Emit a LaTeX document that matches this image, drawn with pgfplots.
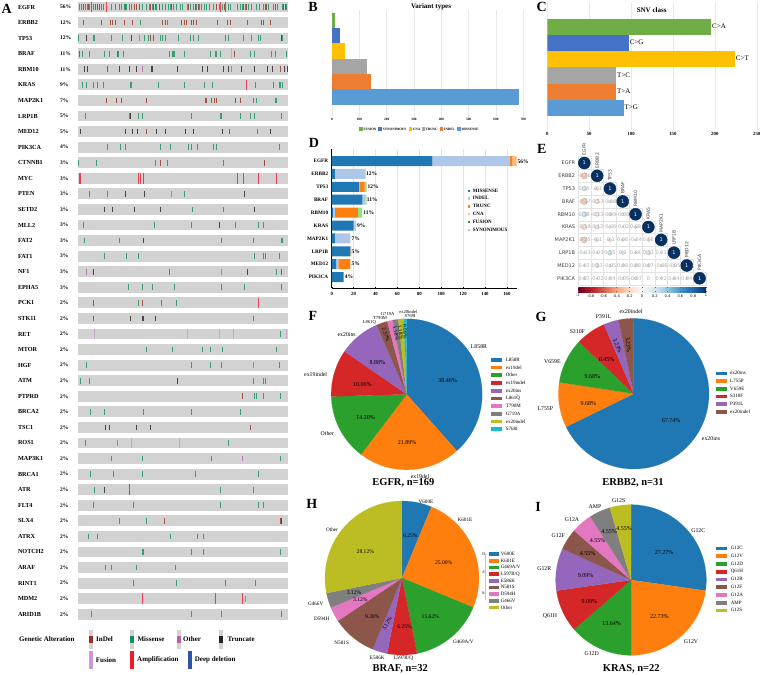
\documentclass[border=0pt]{standalone}
\usepackage{fontspec}
\setmainfont{Liberation Serif}
\newfontfamily\sansE{DejaVu Sans}
\usepackage{pgfplots}
\pgfplotsset{compat=1.18}
\usepackage{pgfplotstable}
\newcommand\fs[1]{\fontsize{#1}{#1}\selectfont}
\definecolor{tA}{HTML}{1F77B4}\definecolor{tB}{HTML}{FF7F0E}\definecolor{tC}{HTML}{2CA02C}
\definecolor{tD}{HTML}{D62728}\definecolor{tE}{HTML}{9467BD}\definecolor{tF}{HTML}{8C564B}
\definecolor{tG}{HTML}{E377C2}\definecolor{tH}{HTML}{7F7F7F}\definecolor{tI}{HTML}{BCBD22}
\definecolor{tJ}{HTML}{17BECF}
\definecolor{lA}{HTML}{AEC7E8}\definecolor{lB}{HTML}{FFBB78}\definecolor{lD}{HTML}{98DF8A}
\definecolor{xG}{HTML}{70AD47}\definecolor{xB}{HTML}{4472C4}\definecolor{xY}{HTML}{FFC000}
\definecolor{xS}{HTML}{A5A5A5}\definecolor{xO}{HTML}{ED7D31}\definecolor{xL}{HTML}{5B9BD5}
\definecolor{aRow}{HTML}{D2D2D2}
\definecolor{aMis}{HTML}{14915A}\definecolor{aInd}{HTML}{93321F}\definecolor{aTru}{HTML}{2B1F1B}
\definecolor{aOth}{HTML}{BE5DB0}\definecolor{aFus}{HTML}{C79AD3}\definecolor{aAmp}{HTML}{ED1C2E}
\definecolor{aDel}{HTML}{2F55A8}
\pgfplotsset{
  base/.style={scale only axis,anchor=south west,/pgf/number format/assume math mode=true,scaled ticks=false},
  tk/.style={only marks,mark=|,mark size=#1,mark options={line width=.7pt,solid,opacity=.8}},
  tk/.default=2.8pt,
}
% Z: position in px from an origin (ox,oy) plus zoom-scale offset
\newcommand\Z[6]{\node[inner sep=0pt,#5] at ({(#1+#3/3)*1pt},{-(#2+#4/3)*1pt}) {#6};}
% pie: cx cy diameter list(value/colour)
\newcommand\piechart[4]{%
\begin{axis}[hide axis,scale only axis,anchor=south west,at={({(#1-#3/2)*1pt},{-(#2+#3/2)*1pt})},
  width=#3pt,height=#3pt,xmin=-1,xmax=1,ymin=-1,ymax=1,clip=false]
  \gdef\acc{0}%
  \foreach \v/\c in {#4}{%
    \pgfmathsetmacro\sweep{\v*3.6}%
    \pgfmathtruncatemacro\npts{ceil(\sweep/2.5)+1}%
    \gdef\plist{(0,0)}%
    \foreach \k in {0,...,\npts}{%
      \pgfmathsetmacro\th{90-\acc*3.6-\k/\npts*\sweep}%
      \pgfmathsetmacro\xx{cos(\th)}%
      \pgfmathsetmacro\yy{sin(\th)}%
      \xdef\plist{\plist(\xx,\yy)}%
    }%
    \edef\tmp{\noexpand\addplot[fill=\c,draw=\c,line width=.1pt,forget plot] coordinates {\plist(0,0)};}%
    \tmp
    \pgfmathsetmacro\newacc{\acc+\v}%
    \xdef\acc{\newacc}%
  }%
\end{axis}}
% pie legend: ox oy xl xr tx list(y/colour/name)
\newcommand\pleg[6]{%
  \foreach \y/\c/\t in {#6}{%
    \fill[\c] ({(#1+#3/3)*1pt},{-(#2+(\y-5.5)/3)*1pt}) rectangle ({(#1+#4/3)*1pt},{-(#2+(\y+5.5)/3)*1pt});
    \node[anchor=west,inner sep=0pt,font=\fs{5}] at ({(#1+#5/3)*1pt},{-(#2+\y/3)*1pt}) {\t};
  }}
\pgfplotstableread{
x y v
1 2 -0.26
1 3 0.15
2 3 -0.1
1 4 -0.27
2 4 -0.13
3 4 -0.08
1 5 0.18
2 5 -0.13
3 5 -0.09
4 5 -0.08
1 6 -0.18
2 6 -0.12
3 6 -0.06
4 6 -0.02
5 6 0.08
1 7 -0.25
2 7 -0.1
3 7 -0.1
4 7 0.06
5 7 -0.04
6 7 0.08
1 8 -0.03
2 8 -0.03
3 8 0.15
4 8 0.1
5 8 0.04
6 8 0.13
7 8 0.01
1 9 0.03
2 9 0.13
3 9 -0.05
4 9 0.08
5 9 0.08
6 9 0.07
7 9 -0.06
8 9 -0.05
1 10 0.07
2 10 -0.02
3 10 0.04
4 10 -0.05
5 10 -0.07
6 10 0
7 10 0.02
8 10 0.04
9 10 0.04
}\Elow
\pgfplotstableread{
x y v
1 1 1
2 2 1
3 3 1
4 4 1
5 5 1
6 6 1
7 7 1
8 8 1
9 9 1
10 10 1
}\Ediag
\begin{document}
\begin{tikzpicture}
\useasboundingbox (0,0) rectangle (761pt,-675pt);
\fill[white] (0,0) rectangle (761pt,-675pt);
%% ---- A
\begin{axis}[hide axis,scale only axis,anchor=south west,at={(0pt,-675pt)},width=300pt,height=675pt,
  xmin=0,xmax=900,ymin=0.55,ymax=43.9,y dir=reverse,clip=false]
\pgfplotsinvokeforeach{1,...,40}{\addplot[aRow,line width=10.8pt,forget plot] coordinates {(233,#1)(865,#1)};}
\addplot[tk,color=aMis,forget plot] coordinates {
(237,1)(245,1)(256,1)(262,1)(268,1)(281,1)(303,1)(310,1)(335,1)(345,1)(358,1)(365,1)(372,1)(380,1)(388,1)(395,1)(428,1)(438,1)(447,1)(456,1)(470,1)(487,1)(495,1)(505,1)(512,1)(520,1)(530,1)(541,1)(548,1)(562,1)(571,1)(580,1)(590,1)(598,1)(604,1)(612,1)(618,1)(628,1)(640,1)(658,1)(668,1)(684,1)(690,1)(712,1)(722,1)(728,1)(735,1)(745,1)(755,1)(768,1)(778,1)(790,1)(805,1)(820,1)(833,1)(846,1)(860,1)
(420,2)(503,2)
(235,3)(280,3)(283,3)(335,3)(367,3)(433,3)(445,3)(480,3)(488,3)(496,3)(535,3)(572,3)(580,3)(595,3)(676,3)(685,3)(730,3)(755,3)(775,3)(780,3)(848,3)
(247,4)(268,4)(313,4)(328,4)(356,4)(370,4)(507,4)(518,4)(521,4)(524,4)(553,4)(630,4)(645,4)(650,4)(662,4)(750,4)(762,4)(815,4)(826,4)(860,4)
(248,6)(258,6)(280,6)(291,6)(310,6)(390,6)(393,6)(476,6)(553,6)(612,6)(637,6)(765,6)(819,6)(838,6)(842,6)(846,6)
(760,7)(770,7)(826,7)(830,7)
(257,8)(388,8)(416,8)(428,8)(573,8)(662,8)(665,8)(721,8)(750,8)(762,8)(843,8)
(772,9)
(323,10)(362,10)(375,10)(481,10)(510,10)(566,10)(574,10)(593,10)(640,10)(649,10)(838,10)
(235,11)(290,11)(466,11)(502,11)(670,11)
(267,13)(321,13)(553,13)
(578,14)(670,14)
(250,15)(463,15)(573,15)(705,15)(775,15)(790,15)
(252,16)(358,16)(664,16)(761,16)(843,16)(846,16)
(313,17)(379,17)(415,17)(764,17)(790,17)(795,17)(838,17)
(507,18)(828,18)
(385,19)(428,19)(458,19)(522,19)(664,19)(733,19)(843,19)
(415,20)(484,20)(530,20)
(761,21)
(840,22)
(438,23)(517,23)(606,23)(631,23)(667,23)(830,23)
(260,24)(573,24)(631,24)(664,24)(838,24)
(240,25)(268,25)(761,25)(790,25)(795,25)
(762,26)(768,26)(789,26)(840,26)
(270,27)(313,27)(430,27)(573,27)(721,27)
(257,29)(685,29)
(334,30)(428,30)(634,30)(840,30)
(272,31)(341,31)(428,31)(586,31)(776,31)
(283,32)(662,32)(761,32)
(280,33)(400,33)(662,33)(775,33)(790,33)
(359,34)(440,34)
(265,35)(292,35)(511,35)(593,35)(611,35)
(428,36)(431,36)(573,36)(611,36)(840,36)
(316,37)(334,37)(410,37)(527,37)
(400,38)(530,38)(675,38)(766,38)
(275,40)(573,40)(664,40)(843,40)
};
\addplot[tk,color=aInd,forget plot] coordinates {
(250,1)(265,1)(287,1)(292,1)(298,1)(377,1)(402,1)(410,1)(417,1)(452,1)(460,1)(466,1)(478,1)(515,1)(565,1)(585,1)(595,1)(650,1)(672,1)(730,1)(738,1)(795,1)(800,1)(825,1)(850,1)(855,1)
(250,2)(305,2)(332,2)(338,2)(346,2)(372,2)(397,2)(488,2)(497,2)(545,2)(552,2)(558,2)(573,2)(580,2)(590,2)(653,2)(682,2)(690,2)(743,2)(785,2)(790,2)(812,2)
(452,3)(461,3)
(237,4)(352,4)(703,4)
(321,5)(840,5)
(319,7)(349,7)(365,7)(438,7)(616,7)(620,7)(635,7)(642,7)(650,7)(707,7)(722,7)
(440,9)(688,9)
(482,11)(792,11)
(843,18)
(280,20)(428,20)
(280,21)
(726,26)
(751,28)
(492,34)(841,34)
};
\addplot[tk,color=aTru,forget plot] coordinates {
(260,3)(393,3)(843,3)
(252,5)(262,5)(358,5)(387,5)(408,5)(454,5)(458,5)(531,5)(607,5)(623,5)(670,5)(686,5)(725,5)(763,5)(803,5)(817,5)(853,5)(862,5)
(391,8)
(241,9)(375,9)(397,9)(411,9)(468,9)(496,9)(555,9)(580,9)(668,9)(810,9)
(376,13)(433,13)(733,13)
(313,14)(337,14)(402,14)(481,14)(763,14)
(657,15)
(430,16)
(280,18)(741,18)
(390,21)(428,21)(431,21)(466,21)
(532,25)
(316,28)(328,28)(410,28)(451,28)
(313,32)
(843,34)
};
\addplot[tk,color=aOth,forget plot] coordinates {
(417,3)(427,5)(693,5)(514,13)(260,18)(664,18)(761,24)(352,29)(728,30)(736,39)
};
\addplot[tk=5.3pt,color=aFus,forget plot] coordinates {
(695,4)(283,22)(561,22)(657,22)(700,22)(860,22)(394,29)(537,29)
};
\addplot[tk=5.3pt,color=aAmp,forget plot] coordinates {
(275,1)(320,1)(662,1)(677,1)(739,6)(239,12)(241,12)(416,12)(421,12)(430,12)(711,12)(729,12)(775,12)(828,12)(775,20)(427,39)(647,39)(728,39)
};
\addplot[tk=5.3pt,color=aDel,forget plot] coordinates {(387,32)};
\end{axis}
\foreach \i/\g/\p in {1/EGFR/56,2/ERBB2/12,3/TP53/12,4/BRAF/11,5/RBM10/11,6/KRAS/9,7/MAP2K1/7,8/LRP1B/5,9/MED12/5,10/PIK3CA/4,11/CTNNB1/3,12/MYC/3,13/PTEN/3,14/SETD2/3,15/MLL2/3,16/FAT2/3,17/FAT1/3,18/NF1/3,19/EPHA5/3,20/PCK1/2,21/STK11/2,22/RET/2,23/MTOR/2,24/HGF/2,25/ATM/2,26/PTPRD/2,27/BRCA2/2,28/TSC1/2,29/ROS1/2,30/MAP3K1/2,31/BRCA1/2,32/ATR/2,33/FLT4/2,34/SLX4/2,35/ATRX/2,36/NOTCH2/2,37/ARAF/2,38/RINT1/2,39/MDM2/2,40/ARID1B/2}{
  \node[anchor=west,inner sep=0pt,font=\fs{6.2}\bfseries] at (17.8pt,{-(7+15.57*(\i-1))*1pt}) {\g};
  \node[anchor=west,inner sep=0pt,font=\fs{5.5}\bfseries] at (60pt,{-(7+15.57*(\i-1))*1pt}) {\p\%};
}
% A legend
\Z{0}{450}{57}{568}{anchor=west,font=\fs{7}\bfseries}{Genetic Alteration}
\foreach \a/\c/\tx/\t in {267/aInd/288/InDel,389/aMis/412/Missense,530/aOth/549/Other,658/aTru/682/Truncate}{
  \fill[aRow] ({\a/3*1pt},{-(450+540/3)*1pt}) rectangle ({(\a+12)/3*1pt},{-(450+597/3)*1pt});
  \fill[\c] ({\a/3*1pt},{-(450+558/3)*1pt}) rectangle ({(\a+12)/3*1pt},{-(450+578/3)*1pt});
  \Z{0}{450}{\tx}{567}{anchor=west,font=\fs{7}\bfseries}{\t}
}
\foreach \a/\c/\tx/\t in {267/aFus/287/Fusion,390/aAmp/411/Amplification,564/aDel/584/Deep deletion}{
  \fill[\c] ({\a/3*1pt},{-(450+602/3)*1pt}) rectangle ({(\a+12)/3*1pt},{-(450+657/3)*1pt});
  \Z{0}{450}{\tx}{629}{anchor=west,font=\fs{7}\bfseries}{\t}
}
%% ---- B
\begin{axis}[base,at={(332pt,-117pt)},width=191.3pt,height=107pt,xmin=0,xmax=700,ymin=0.328,ymax=7.308,y dir=reverse,
  axis line style={draw=none},tick style={draw=none},ytick=\empty,xtick={0,100,...,700},
  xmajorgrids,grid style={gray!18,line width=.4pt},tick label style={font=\fs{3.4}\bfseries},xticklabel style={yshift=2pt}]
\addplot[xbar,bar shift=0pt,bar width=15.33pt,fill=xG,draw=none] coordinates {(12,1)};
\addplot[xbar,bar shift=0pt,bar width=15.33pt,fill=xB,draw=none] coordinates {(30,2)};
\addplot[xbar,bar shift=0pt,bar width=15.33pt,fill=xY,draw=none] coordinates {(48,3)};
\addplot[xbar,bar shift=0pt,bar width=15.33pt,fill=xS,draw=none] coordinates {(128,4)};
\addplot[xbar,bar shift=0pt,bar width=15.33pt,fill=xO,draw=none] coordinates {(141,5)};
\addplot[xbar,bar shift=0pt,bar width=15.33pt,fill=xL,draw=none] coordinates {(685,6)};
\end{axis}
\Z{300}{0}{393}{21}{font=\fs{7}\bfseries}{Variant types}
\foreach \a/\c/\tx/\t in {178/xG/190/FUSION,235/xB/248/SYNONIMOUS,327/xY/338/CNA,365/xS/376/TRUNC,420/xO/432/INDEL,472/xL/484/MISSENSE}{
  \fill[\c] ({(300+\a/3)*1pt},-127.3pt) rectangle ({(300+(\a+10)/3)*1pt},-130.7pt);
  \Z{300}{0}{\tx}{387}{anchor=west,font=\fs{3.4}\bfseries}{\t}
}
%% ---- C
\begin{axis}[base,at={(547.3pt,-130pt)},width=209.4pt,height=127pt,xmin=0,xmax=250,ymin=-0.49,ymax=7.38,y dir=reverse,
  axis line style={draw=none},tick style={draw=none},ytick=\empty,xtick={0,50,...,250},
  xmajorgrids,grid style={gray!18,line width=.4pt},tick label style={font=\fs{4.8}\bfseries},xticklabel style={yshift=1pt}]
\addplot[xbar,bar shift=0pt,bar width=16.13pt,fill=xG,draw=none] coordinates {(196,1)};
\addplot[xbar,bar shift=0pt,bar width=16.13pt,fill=xB,draw=none] coordinates {(97,2)};
\addplot[xbar,bar shift=0pt,bar width=16.13pt,fill=xY,draw=none] coordinates {(224,3)};
\addplot[xbar,bar shift=0pt,bar width=16.13pt,fill=xS,draw=none] coordinates {(82,4)};
\addplot[xbar,bar shift=0pt,bar width=16.13pt,fill=xO,draw=none] coordinates {(82,5)};
\addplot[xbar,bar shift=0pt,bar width=16.13pt,fill=xL,draw=none] coordinates {(91,6)};
\end{axis}
\Z{530}{0}{365}{31}{font=\fs{7}\bfseries}{SNV class}
\foreach \x/\y/\t in {567/78/{C>A},320/127/{C>G},637/176/{C>T},281/225/{T>C},281/273/{T>A},304/321/{T>G}}{
  \Z{530}{0}{\x}{\y}{font=\fs{7}}{\t}
}
%% ---- D
\begin{axis}[base,at={(331.7pt,-288.3pt)},width=185pt,height=139pt,xmin=0,xmax=169,ymin=0.093,ymax=10.868,y dir=reverse,
  xbar stacked,bar width=10pt,axis x line*=bottom,axis y line*=left,axis line style={-,black,line width=.5pt},
  xtick={0,20,...,160},ytick={1,...,10},yticklabels={EGFR,ERBB2,TP53,BRAF,RBM10,KRAS,MAP2K1,LRP1B,MED12,PIK3CA},
  xmajorgrids,grid style={gray!22,line width=.5pt},
  xticklabel style={font=\fs{4.8}\bfseries},yticklabel style={font=\fs{5.2}\bfseries},major tick length=1.5pt,
  tick style={black,line width=.4pt}]
\addplot[fill=tA,draw=none] coordinates {(92,1)(3,2)(25,3)(28,4)(1,5)(20,6)(3,7)(17,8)(4,9)(11,10)};
\addplot[fill=lA,draw=none] coordinates {(71,1)(28,2)(1,3)(3,4)(2,5)(1,6)(14,7)(0,8)(2,9)(0,10)};
\addplot[fill=tB,draw=none] coordinates {(2,1)(0,2)(4,3)(0,4)(21,5)(0,6)(0,7)(0,8)(11,9)(0,10)};
\addplot[fill=lB,draw=none] coordinates {(4,1)(0,2)(0,3)(0,4)(0,5)(1,6)(0,7)(1,8)(0,9)(0,10)};
\addplot[fill=tC,draw=none] coordinates {(0,1)(0,2)(0,3)(0,4)(0,5)(0,6)(0,7)(0,8)(0,9)(0,10)};
\addplot[fill=lD,draw=none] coordinates {(0,1)(0,2)(2,3)(1,4)(4,5)(0,6)(0,7)(0,8)(0,9)(0,10)};
\end{axis}
\foreach \x/\y/\t in {669/64/56,215/101/12,219/140/12,217/179/11,206/218/11,184/256/9,167/296/7,167/334/5,167/372/5,147/411/4}{
  \Z{300}{140}{\x}{\y}{font=\fs{5.5}\bfseries}{\t\%}
}
\foreach \y/\c/\t in {152/tA/MISSENSE,175/lA/INDEL,199/tB/TRUNC,222/lB/CNA,245/tC/FUSION,269/lD/SYNONIMOUS}{
  \fill[\c] ({(300+503.5/3)*1pt},{-(140+(\y-3.5)/3)*1pt}) rectangle ({(300+510.5/3)*1pt},{-(140+(\y+3.5)/3)*1pt});
  \Z{300}{140}{518}{\y}{anchor=west,font=\fs{5}\bfseries}{\t}
}
%% ---- E
\begin{axis}[hide axis,scale only axis,anchor=south west,at={(577.9pt,-284.7pt)},width=128.1pt,height=128.1pt,
  xmin=0.5,xmax=10.5,ymin=0.5,ymax=10.5,y dir=reverse,clip=false,
  colormap={rdbu}{rgb255=(103,0,31) rgb255=(178,24,43) rgb255=(214,96,77) rgb255=(244,165,130) rgb255=(253,219,199) rgb255=(247,247,247) rgb255=(209,229,240) rgb255=(146,197,222) rgb255=(67,147,195) rgb255=(33,102,172) rgb255=(5,48,97)},
  point meta min=-1,point meta max=1,
  colorbar horizontal,
  colorbar style={at={(0,-0.018)},anchor=north west,width=128.1pt,height=5.3pt,xtick={-1,-0.8,...,1},
    /pgf/number format/assume math mode=true,/pgf/number format/fixed,
    xticklabel style={font=\fs{3.6}\sansE,yshift=1.5pt},major tick length=1pt,tick style={black!60,line width=.2pt},axis line style={draw=none}}]
\addplot[only marks,mark=square,mark size=6.4pt,mark options={draw=gray!22,line width=.3pt,fill=none}] table[x=x,y=y]{\Elow};
\addplot[only marks,mark=square,mark size=6.4pt,mark options={draw=gray!22,line width=.3pt,fill=none}] table[x=x,y=y]{\Ediag};
\addplot[scatter,only marks,mark=*,scatter src=explicit,visualization depends on={6*sqrt(abs(\thisrow{v}))\as\rr},
  scatter/@pre marker code/.append style={/tikz/mark size=\rr pt}] table[x=x,y=y,meta=v]{\Elow};
\addplot[scatter,only marks,mark=*,scatter src=explicit,visualization depends on={6*sqrt(abs(\thisrow{v}))\as\rr},
  scatter/@pre marker code/.append style={/tikz/mark size=\rr pt}] table[x=x,y=y,meta=v]{\Ediag};
\addplot[only marks,mark=none,point meta=explicit symbolic,nodes near coords,nodes near coords align={center},
  nodes near coords style={font=\fs{5}\sansE,text=gray!65,inner sep=0pt}] table[x=x,y=y,meta=v]{\Elow};
\addplot[only marks,mark=none,point meta=explicit symbolic,nodes near coords,nodes near coords align={center},
  nodes near coords style={font=\fs{5}\sansE,text=white,inner sep=0pt}] table[x=x,y=y,meta=v]{\Ediag};
\end{axis}
\foreach \i/\g in {1/EGFR,2/ERBB2,3/TP53,4/BRAF,5/RBM10,6/KRAS,7/MAP2K1,8/LRP1B,9/MED12,10/PIK3CA}{
  \node[anchor=east,inner sep=0pt,font=\fs{5}\sansE,text=black!75] at (575.3pt,{-(163+12.81*(\i-1))*1pt}) {\g};
  \node[anchor=west,rotate=90,inner sep=0pt,font=\fs{4.5}\sansE,text=black!75] at ({(584.3+12.81*(\i-1))*1pt},{-(163+12.81*(\i-1)-7.5)*1pt}) {\g};
}
%% ---- F
\piechart{406.7}{394.3}{151}{38.46/tA,21.89/tB,14.20/tC,10.06/tD,8.88/tE,2.37/tF,1.18/tG,1.18/tH,1.18/tI,0.59/tJ}
\foreach \x/\y/\t in {537/139/L858R,360/529/ex19del,82/400/Other,47/224/ex19indel,140/105/ex20ins}{\Z{300}{300}{\x}{\y}{font=\fs{5.8}}{\t}}
\foreach \x/\y/\t in {208/66/L861Q,240/54/T790M,263/43/G719A,325/37/ex20indel,330/48/S768I}{\Z{300}{300}{\x}{\y}{font=\fs{4.6}}{\t}}
\foreach \x/\y/\t in {443/243/38.46,321/427/21.89,197/353/14.20,187/253/10.06,232/187/8.88}{\Z{300}{300}{\x}{\y}{font=\fs{6}}{\t\%}}
\foreach \x/\y/\r/\t in {258/105/-70/2.37,288/100/-78/1.18,302/98/-82/1.18,315/95/-87/0.59}{\Z{300}{300}{\x}{\y}{font=\fs{5.5},rotate=\r}{\t\%}}
\pleg{300}{300}{574}{606}{617}{179/tA/L858R,202/tB/ex19del,225/tC/Other,248/tD/ex19indel,272/tE/ex20ins,295/tF/L861Q,318/tG/T790M,341/tH/G719A,364/tI/ex20indel,387/tJ/S768I}
\Z{300}{300}{310}{548}{font=\fs{10.5}\bfseries}{EGFR, n=169}
%% ---- G
\piechart{633.7}{393.7}{150.6}{67.74/tA,9.68/tB,9.68/tC,6.45/tD,3.23/tE,3.23/tF}
\foreach \x/\y/\t in {543/417/ex20ins,46/325/L755P,67/185/V659E,142/95/S310F,221/50/P391L,303/36/ex20indel}{\Z{530}{300}{\x}{\y}{font=\fs{5.8}}{\t}}
\foreach \x/\y/\t in {423/362/67.74,175/311/9.68,187/230/9.68,230/178/6.45}{\Z{530}{300}{\x}{\y}{font=\fs{6}}{\t\%}}
\foreach \x/\y/\r in {262/137/-68,295/135/-85}{\Z{530}{300}{\x}{\y}{font=\fs{6},rotate=\r}{3.23\%}}
\pleg{530}{300}{558}{590}{600}{220/tA/ex20ins,243/tB/L755P,266/tC/V659E,289/tD/S310F,312/tE/P391L,336/tF/ex20indel}
\Z{530}{300}{309}{548}{font=\fs{10.5}\bfseries}{ERBB2, n=31}
%% ---- H
\piechart{402}{578}{154}{6.25/tA,25.00/tB,15.62/tC,6.25/tD,3.12/tE,9.38/tF,3.12/tG,3.12/tH,28.12/tI}
\foreach \x/\y/\t in {378/51/V600E,495/104/K601E,490/469/{G469A/V},310/519/{L597R/Q},232/519/E586K,125/474/N581S,65/402/D594H,47/357/G466V,96/135/Other}{\Z{300}{485}{\x}{\y}{font=\fs{5.2}}{\t}}
\foreach \x/\y/\t in {331/152/6.25,431/234/25.00,391/394/15.62,314/426/6.25,217/394/9.38,181/345/3.12,162/323/3.12,196/200/28.12}{\Z{300}{485}{\x}{\y}{font=\fs{5.6}}{\t\%}}
\Z{300}{485}{261}{416}{font=\fs{5.6},rotate=62}{3.12\%}
\pleg{300}{485}{566}{596}{602}{207/tA/V600E,227/tB/K601E,247/tC/{G469A/V},267/tD/{L597R/Q},287/tE/E586K,307/tF/N581S,327/tG/D594H,347/tH/G466V,367/tI/Other}
\draw[gray!45,line width=.3pt] (485pt,-555pt) -- (485pt,-600pt);
\Z{300}{485}{553}{207}{font=\fs{4}}{D:}
\Z{300}{485}{551}{261}{font=\fs{4}}{8}
\Z{300}{485}{551}{326}{font=\fs{4}}{8:}
\Z{300}{485}{301}{552}{font=\fs{10.5}\bfseries}{BRAF, n=32}
%% ---- I
\piechart{631}{580}{150.6}{27.27/tA,22.73/tB,13.64/tC,9.09/tD,9.09/tE,4.55/tF,4.55/tG,4.55/tH,4.55/tI}
\foreach \x/\y/\t in {505/138/G12C,483/469/G12V,185/507/G12D,60/393/Q61H,43/250/G12R,85/152/G12F,126/104/G12A,195/66/AMP,266/47/G12S}{\Z{530}{485}{\x}{\y}{font=\fs{5.8}}{\t}}
\foreach \x/\y/\t in {402/204/27.27,388/396/22.73,245/417/13.64,178/349/9.09,167/273/9.09,173/206/4.55,203/168/4.55,237/140/4.55,282/131/4.55}{\Z{530}{485}{\x}{\y}{font=\fs{6}}{\t\%}}
\pleg{530}{485}{558}{590}{602}{190/tA/G12C,213/tB/G12V,237/tC/G12D,260/tD/Q61H,283/tE/G12R,306/tF/G12F,330/tG/G12A,353/tH/AMP,376/tI/G12S}
\Z{530}{485}{304}{552}{font=\fs{10.5}\bfseries}{KRAS, n=22}
%% ---- panel letters
\foreach \x/\y/\t in {6.7/9/A,313/7/B,541.7/7/C,314/143/D,541.7/149/E,313/316/F,541/317.3/G,311.7/504/H,538/506.7/I}{
  \node[inner sep=0pt,font=\fs{14}\bfseries] at ({\x*1pt},{-\y*1pt}) {\t};
}
\end{tikzpicture}
\end{document}
